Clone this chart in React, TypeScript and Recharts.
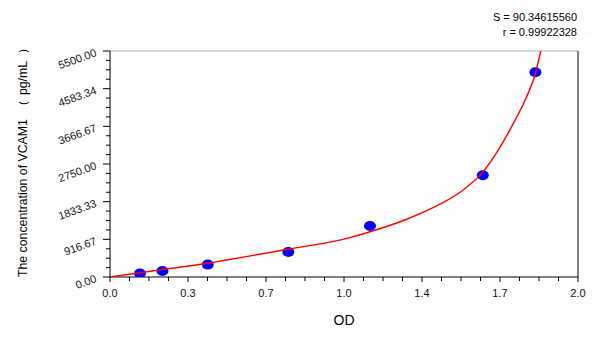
import React from 'react';
import { ComposedChart, Line, Scatter, XAxis, YAxis, ReferenceLine, Customized } from 'recharts';

// Standard points (OD vs concentration)
const standardOD = [0.128, 0.224, 0.418, 0.762, 1.111, 1.593, 1.818];
const standardConc = [83, 146, 302, 609, 1243, 2478, 4981];

// Fitted curve
const curveOD = [0, 0.128, 0.222, 0.419, 0.491, 0.761, 1.026, 1.111, 1.268, 1.41, 1.496, 1.593, 1.667, 1.724, 1.774, 1.818, 1.842, 1.86];
const curveConc = [0, 102, 180, 334, 407, 675, 960, 1101, 1406, 1771, 2063, 2551, 3160, 3738, 4306, 4957, 5524, 5900];

const xTickLabels = ['0.0', '0.3', '0.7', '1.0', '1.4', '1.7', '2.0'];
const yTickLabels = ['0.00', '916.67', '1833.33', '2750.00', '3666.67', '4583.34', '5500.00'];

const X_MAX = 2;
const Y_MAX = 5500;
const MINOR_PER_MAJOR = 4;

const xTicks = Array.from({ length: (xTickLabels.length - 1) * MINOR_PER_MAJOR + 1 }, (_, i) => (i * X_MAX) / ((xTickLabels.length - 1) * MINOR_PER_MAJOR));
const yTicks = Array.from({ length: (yTickLabels.length - 1) * MINOR_PER_MAJOR + 1 }, (_, i) => (i * Y_MAX) / ((yTickLabels.length - 1) * MINOR_PER_MAJOR));

const pointData = standardOD.map((od, i) => ({ od, conc: standardConc[i] }));
const curveData = curveOD.map((od, i) => ({ od, conc: curveConc[i] }));

const FONT = 'Liberation Sans, Arial, sans-serif';

const XTick = (props: any) => {
  const { x, y, index } = props;
  const major = index % MINOR_PER_MAJOR === 0;
  return (
    <g>
      <line x1={x} x2={x} y1={y} y2={y + (major ? 5 : 4)} stroke="#000" strokeWidth={1} />
      {major && (
        <text x={x} y={y + 20} textAnchor="middle" fontSize={11} fill="#111" fontFamily={FONT}>
          {xTickLabels[index / MINOR_PER_MAJOR]}
        </text>
      )}
    </g>
  );
};

const YTick = (props: any) => {
  const { x, y, index } = props;
  const major = index % MINOR_PER_MAJOR === 0;
  const tx = x - 14;
  return (
    <g>
      <line x1={x - (major ? 7 : 4)} x2={x} y1={y} y2={y} stroke="#000" strokeWidth={1} />
      {major && (
        <text
          x={tx}
          y={y + 5}
          textAnchor="end"
          fontSize={11}
          fill="#111"
          fontFamily={FONT}
          transform={`rotate(-20 ${tx} ${y + 1})`}
        >
          {yTickLabels[index / MINOR_PER_MAJOR]}
        </text>
      )}
    </g>
  );
};

const Dot = (props: any) => {
  const { cx, cy } = props;
  if (cx == null || cy == null) return null;
  return <ellipse cx={cx} cy={cy} rx={6} ry={5} fill="#0000ff" />;
};

const Texts = () => (
  <g fontFamily={FONT}>
    <text x={577} y={21} textAnchor="end" fontSize={11} fill="#000">S = 90.34615560</text>
    <text x={577} y={36} textAnchor="end" fontSize={11} fill="#000">r = 0.99922328</text>
    <text x={344} y={325} textAnchor="middle" fontSize={14} fill="#000">OD</text>
    <text x={27} y={277} textAnchor="start" fontSize={12.3} fill="#000" transform="rotate(-90 27 277)">
      The concentration of VCAM1
      <tspan dx={7}>（</tspan>
      <tspan dx={5}>pg/mL</tspan>
      <tspan dx={7}>）</tspan>
    </text>
  </g>
);

export default function App() {
  return (
    <div style={{ position: 'absolute', left: 0, top: 0, width: 600, height: 337, background: '#fff' }}>
      <ComposedChart width={600} height={337} margin={{ top: 51, right: 22, left: 40, bottom: 0 }}>
        <XAxis
          type="number"
          dataKey="od"
          domain={[0, X_MAX]}
          ticks={xTicks}
          interval={0}
          tick={<XTick />}
          tickLine={false}
          tickSize={0}
          tickMargin={0}
          height={60}
          axisLine={{ stroke: '#000' }}
          allowDataOverflow
        />
        <YAxis
          type="number"
          dataKey="conc"
          domain={[0, Y_MAX]}
          ticks={yTicks}
          interval={0}
          tick={<YTick />}
          tickLine={false}
          tickSize={0}
          tickMargin={0}
          width={70}
          axisLine={{ stroke: '#000' }}
          allowDataOverflow
        />
        <ReferenceLine y={Y_MAX} stroke="#c8c8c8" strokeWidth={1.5} />
        <ReferenceLine x={X_MAX} stroke="#000" strokeWidth={1} />
        <Scatter data={pointData} dataKey="conc" shape={<Dot />} isAnimationActive={false} />
        <Line
          data={curveData}
          dataKey="conc"
          type="monotone"
          stroke="#ff0000"
          strokeWidth={1.4}
          dot={false}
          activeDot={false}
          isAnimationActive={false}
          {...({ zIndex: 700 } as any)}
        />
        <Customized component={Texts} />
      </ComposedChart>
    </div>
  );
}
